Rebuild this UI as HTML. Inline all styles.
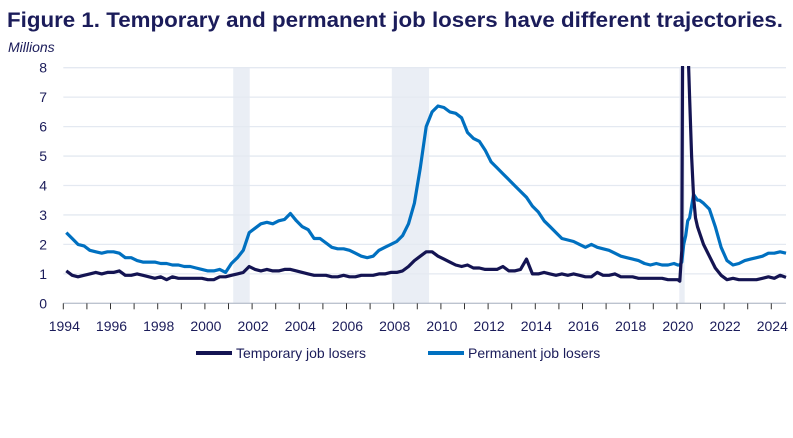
<!DOCTYPE html>
<html><head><meta charset="utf-8"><style>
body{margin:0;background:#fff;}
svg{display:block;font-family:"Liberation Sans",sans-serif;}
</style></head><body>
<svg id="chart" width="793" height="438">
<text x="7" y="27" font-size="21" font-weight="bold" fill="#1b1c5a" textLength="776" lengthAdjust="spacingAndGlyphs">Figure 1. Temporary and permanent job losers have different trajectories.</text>
<text x="8" y="52" font-size="14" font-style="italic" fill="#1b1c5a">Millions</text>
<defs><clipPath id="plotclip"><rect x="55" y="66" width="735" height="240"/></clipPath></defs>
<g id="shade"></g>
<g id="grid"></g>
<g id="axes"></g>
<g id="series" clip-path="url(#plotclip)"></g>
<g>
<g>
<line x1="196" y1="353" x2="232" y2="353" stroke="#141452" stroke-width="4"/>
<text x="236" y="358" font-size="14" fill="#1b1c5a">Temporary job losers</text></g>
<g>
<line x1="428" y1="353" x2="464" y2="353" stroke="#0070c0" stroke-width="4"/>
<text x="468" y="358" font-size="14" fill="#1b1c5a">Permanent job losers</text></g>
</g>
</svg>
<script>
const yTicks=[0,1,2,3,4,5,6,7,8];
const xTickLabels=[1994,1996,1998,2000,2002,2004,2006,2008,2010,2012,2014,2016,2018,2020,2022,2024];
const recessions=[[2001.2,2001.9],[2007.92,2009.5],[2020.1,2020.33]];
// quarterly 1994Q1..2019Q4
const permQ1=[2.4,2.2,2.0,1.95,1.8,1.75,1.7,1.75,1.75,1.7,1.55,1.55,1.45,1.4,1.4,1.4,1.35,1.35,1.3,1.3,1.25,1.25,1.2,1.15,1.1,1.1,1.15,1.05,1.35,1.55,1.8,2.4,2.55,2.7,2.75,2.7,2.8,2.85,3.05,2.8,2.6,2.5,2.2,2.2,2.05,1.9,1.85,1.85,1.8,1.7,1.6,1.55,1.6,1.8,1.9,2.0,2.1,2.3,2.7,3.4,4.6,6.0,6.5,6.7,6.65,6.5,6.45,6.3,5.8,5.6,5.5,5.2,4.8,4.6,4.4,4.2,4.0,3.8,3.6,3.3,3.1,2.8,2.6,2.4,2.2,2.15,2.1,2.0,1.9,2.0,1.9,1.85,1.8,1.7,1.6,1.55,1.5,1.45,1.35,1.3,1.35,1.3,1.3,1.35];
const tempQ1=[1.1,0.95,0.9,0.95,1.0,1.05,1.0,1.05,1.05,1.1,0.95,0.95,1.0,0.95,0.9,0.85,0.9,0.8,0.9,0.85,0.85,0.85,0.85,0.85,0.8,0.8,0.9,0.9,0.95,1.0,1.05,1.25,1.15,1.1,1.15,1.1,1.1,1.15,1.15,1.1,1.05,1.0,0.95,0.95,0.95,0.9,0.9,0.95,0.9,0.9,0.95,0.95,0.95,1.0,1.0,1.05,1.05,1.1,1.25,1.45,1.6,1.75,1.75,1.6,1.5,1.4,1.3,1.25,1.3,1.2,1.2,1.15,1.15,1.15,1.25,1.1,1.1,1.15,1.5,1.0,1.0,1.05,1.0,0.95,1.0,0.95,1.0,0.95,0.9,0.9,1.05,0.95,0.95,1.0,0.9,0.9,0.9,0.85,0.85,0.85,0.85,0.85,0.8,0.8];
// monthly 2020
const perm2020=[1.3,1.3,1.4,2.0,2.3,2.8,2.9,3.3,3.7,3.6,3.5,3.5];
const temp2020=[0.8,0.75,1.8,18,15,9,7,5,3.6,2.9,2.6,2.4];
// quarterly 2021Q1..2024Q3
const permQ2=[3.4,3.2,2.6,1.9,1.45,1.3,1.35,1.45,1.5,1.55,1.6,1.7,1.7,1.75,1.7];
const tempQ2=[2.0,1.6,1.2,0.95,0.8,0.85,0.8,0.8,0.8,0.8,0.85,0.9,0.85,0.95,0.88];

const NS="http://www.w3.org/2000/svg";
const x0=63.3,perYear=23.6,yBase=303.3,perUnit=29.45;
const xs=t=>x0+(t-1994)*perYear;
const ys=v=>yBase-v*perUnit;
function mk(tag,attrs,parent){const e=document.createElementNS(NS,tag);for(const k in attrs)e.setAttribute(k,attrs[k]);parent.appendChild(e);return e;}
function buildSeries(q1,m,q2){const pts=[];q1.forEach((v,i)=>pts.push([1994+i/4+0.125,v]));m.forEach((v,i)=>pts.push([2020+i/12+0.04,v]));q2.forEach((v,i)=>pts.push([2021+i/4+0.125,v]));return pts;}
const shade=document.getElementById('shade');
recessions.forEach(r=>{const e=mk('rect',{x:xs(r[0]),y:67,width:xs(r[1])-xs(r[0]),height:yBase-67,fill:'#eaeef5'},shade);

});
const grid=document.getElementById('grid'),axes=document.getElementById('axes');
yTicks.forEach(v=>{if(v>0){const l=mk('line',{x1:x0,x2:786,y1:ys(v),y2:ys(v),stroke:'#e4e9f1','stroke-width':1.3},grid);

}
const t=mk('text',{x:47,y:ys(v)+5,'font-size':14,fill:'#1b1c5a','text-anchor':'end'},axes);t.textContent=v;

});
mk('line',{x1:x0,x2:786,y1:yBase,y2:yBase,stroke:'#bcc3cf','stroke-width':1.3},axes);
for(let yr=1994;yr<=2024;yr++){mk('line',{x1:xs(yr),x2:xs(yr),y1:yBase,y2:yBase+6,stroke:'#333','stroke-width':1},axes);}
xTickLabels.forEach(yr=>{const t=mk('text',{x:xs(yr)+1,y:331,'font-size':14,fill:'#1b1c5a','text-anchor':'middle'},axes);t.textContent=yr;

});
const ser=document.getElementById('series');
[[buildSeries(permQ1,perm2020,permQ2),'#0070c0','permanent-job-losers-line'],[buildSeries(tempQ1,temp2020,tempQ2),'#141452','temporary-job-losers-line']].forEach(s=>{
const d=s[0].map((p,i)=>(i?'L':'M')+xs(p[0]).toFixed(1)+','+ys(p[1]).toFixed(1)).join('');
const p=mk('path',{d:d,fill:'none',stroke:s[1],'stroke-width':3.2,'stroke-linejoin':'round'},ser);

});
</script>
</body></html>
